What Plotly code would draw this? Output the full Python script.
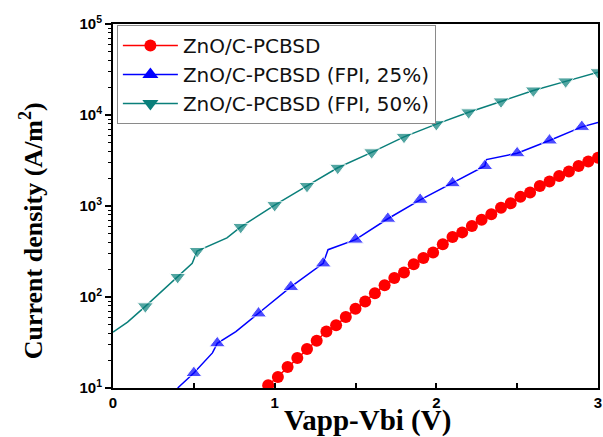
import plotly.graph_objects as go

# ---------------- data ----------------
# ZnO/C-PCBSD (red circles)
x_ref = [0.90, 0.96, 1.02, 1.08, 1.14, 1.20, 1.26, 1.32, 1.38, 1.44, 1.50, 1.56,
         1.62, 1.68, 1.74, 1.80, 1.86, 1.92, 1.98, 2.04, 2.10, 2.16, 2.22, 2.28,
         2.34, 2.40, 2.46, 2.52, 2.58, 2.64, 2.70, 2.76, 2.82, 2.88, 2.94, 3.00]
y_ref = [8.5, 10.7, 13.2, 17.0, 21.4, 26.9, 33.1, 41.7, 49.0, 60.3, 74.1, 89.1,
         110, 135, 162, 186, 229, 269, 309, 380, 457, 513, 603, 708,
         813, 955, 1070, 1260, 1410, 1660, 1860, 2140, 2400, 2750, 3090, 3390]

# ZnO/C-PCBSD (FPI, 25%) (blue up-triangles)
x_25 = [0.40, 0.50, 0.615, 0.645, 0.76, 0.90, 1.10, 1.30, 1.33, 1.50, 1.70,
        1.90, 2.10, 2.30, 2.31, 2.50, 2.70, 2.90, 3.00]
y_25 = [10.0, 14.6, 24.3, 31.0, 41.7, 66.0, 129, 234, 331, 427, 724,
        1170, 1780, 2750, 3240, 3800, 5250, 7400, 8300]
marked_25 = [0.50, 0.645, 0.90, 1.10, 1.30, 1.50, 1.70, 1.90, 2.10, 2.30,
             2.50, 2.70, 2.90]

# ZnO/C-PCBSD (FPI, 50%) (teal down-triangles)
x_50 = [0.00, 0.09, 0.20, 0.40, 0.49, 0.52, 0.705, 0.79, 1.00, 1.20, 1.39,
        1.60, 1.80, 2.00, 2.20, 2.40, 2.60, 2.80, 3.00]
y_50 = [41.2, 53.0, 79.0, 166, 235, 320, 447, 589, 1023, 1660, 2630,
        3890, 5750, 7940, 10700, 14100, 18600, 23400, 29500]
marked_50 = [0.20, 0.40, 0.52, 0.79, 1.00, 1.20, 1.39, 1.60, 1.80, 2.00,
             2.20, 2.40, 2.60, 2.80, 3.00]

names = ["ZnO/C-PCBSD", "ZnO/C-PCBSD (FPI, 25%)", "ZnO/C-PCBSD (FPI, 50%)"]
x_ticks = [0, 1, 2, 3]
y_exponents = [1, 2, 3, 4, 5]

# ---------------- figure ----------------
RED, BLUE, TEAL = "#ff0000", "#0000ff", "#0a7f7a"
styles = [("circle", RED, 12), ("triangle-up", BLUE, 14), ("triangle-down", TEAL, 14)]


def sizes(xs, marked, s):
    return [s if x in marked else 0 for x in xs]


series = [
    (x_ref, y_ref, None),
    (x_25, y_25, marked_25),
    (x_50, y_50, marked_50),
]

fig = go.Figure()
for (xs, ys, marked), name, (sym, col, ms) in zip(series, names, styles):
    msize = ms if marked is None else sizes(xs, marked, ms)
    fig.add_trace(go.Scatter(
        x=xs, y=ys, name=name, mode="lines+markers", showlegend=False,
        legendgroup=name,
        line=dict(color=col, width=1.5),
        marker=dict(symbol=sym, color=col, size=msize)))
# legend entries (line + marker sample)
for name, (sym, col, ms) in zip(names, styles):
    fig.add_trace(go.Scatter(
        x=[None], y=[None], name=name, mode="lines+markers", legendgroup=name,
        line=dict(color=col, width=1.5),
        marker=dict(symbol=sym, color=col, size=ms)))

tickfont = dict(family="Liberation Sans, Arial, sans-serif", size=15, color="black", weight="bold")
titlefont = dict(family="Liberation Serif, Times New Roman, serif", size=26, color="black", weight="bold")

y_tickvals = [10 ** e for e in y_exponents]
y_ticktext = ["10<sup>%d</sup>" % e for e in y_exponents]
y_minor = [m * 10 ** e for e in y_exponents[:-1] for m in range(2, 10)]

fig.update_layout(
    width=603, height=437,
    margin=dict(l=113, r=1, t=24, b=49, pad=0),
    paper_bgcolor="white", plot_bgcolor="white",
    showlegend=True,
    legend=dict(
        x=0.008, y=0.997, xanchor="left", yanchor="top",
        bgcolor="white", bordercolor="#8a8a8a", borderwidth=1,
        font=dict(family="DejaVu Sans, Arial, sans-serif", size=20, color="#111"),
        itemwidth=55, tracegroupgap=0,
    ),
    xaxis=dict(
        range=[0, 3], tickvals=x_ticks, ticktext=[str(v) for v in x_ticks],
        ticks="inside", ticklen=5, tickwidth=1.5, tickcolor="black",
        minor=dict(dtick=0.5, ticks="inside", ticklen=5, tickwidth=1.5, tickcolor="black"),
        showline=True, linecolor="black", linewidth=2, mirror=True,
        showgrid=False, zeroline=False, tickfont=tickfont,
        ticklabeloverflow="allow",
    ),
    yaxis=dict(
        type="log", range=[1, 5], tickvals=y_tickvals, ticktext=y_ticktext,
        ticks="outside", ticklen=6, tickwidth=1.5, tickcolor="black",
        minor=dict(tickvals=y_minor, ticks="outside", ticklen=3, tickwidth=1,
                   tickcolor="black", showgrid=False),
        showline=True, linecolor="black", linewidth=2, mirror=True,
        showgrid=False, zeroline=False, tickfont=tickfont,
    ),
    annotations=[
        dict(text="Vapp-Vbi (V)", xref="paper", yref="paper", x=0.5256, y=-0.09,
             xanchor="center", yanchor="middle", showarrow=False, font=dict(titlefont, size=29)),
        dict(text="Current density (A/m<sup>2</sup>)", xref="paper", yref="paper",
             x=-0.168, y=0.432, xanchor="center", yanchor="middle", textangle=-90,
             showarrow=False, font=titlefont),
    ],
)

fig.write_html("out.html", config={"displayModeBar": False},
               post_script="document.body.style.margin='0px';")
